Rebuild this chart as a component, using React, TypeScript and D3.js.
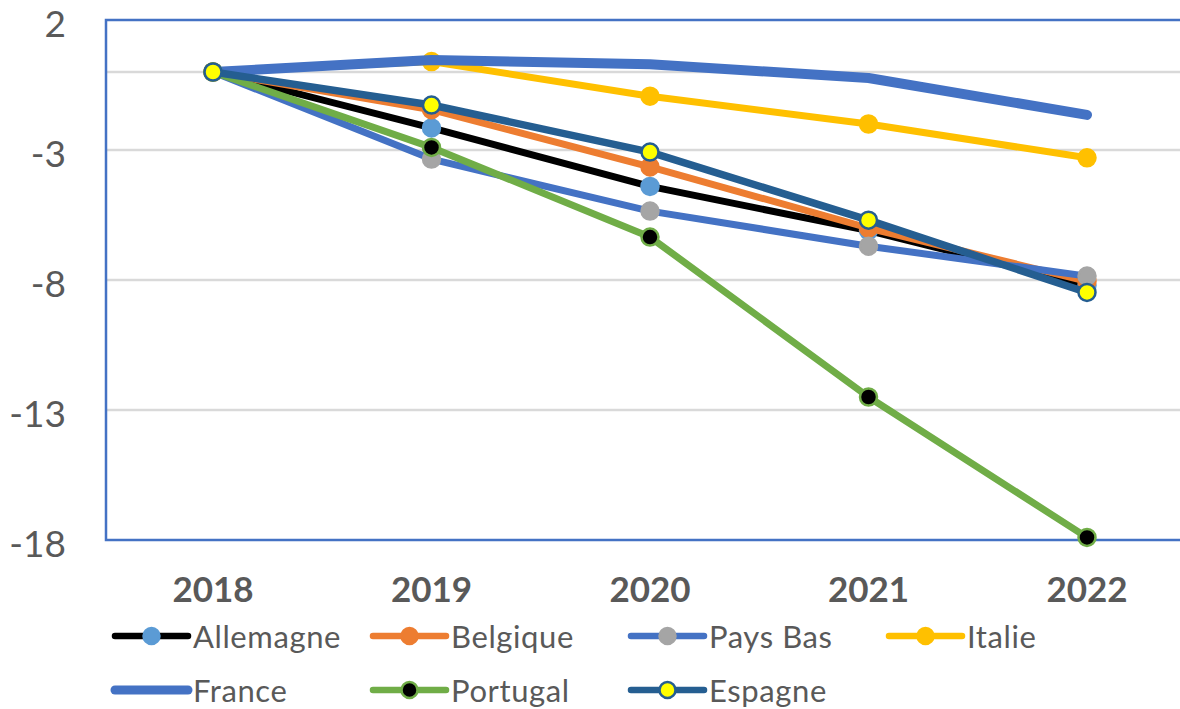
import React, { useEffect, useRef } from "react";
import * as d3 from "d3";

const years = ["2018", "2019", "2020", "2021", "2022"];
const allemagne = [0, -2.15, -4.4, -6.1, -8.2];
const belgique = [0, -1.45, -3.65, -6.0, -8.05];
const paysBas = [0, -3.35, -5.35, -6.7, -7.85];
const italie = [0, 0.4, -0.93, -2.0, -3.3];
const france = [0, 0.46, 0.3, -0.23, -1.65];
const portugal = [0, -2.9, -6.35, -12.5, -17.9];
const espagne = [0, -1.27, -3.08, -5.7, -8.48];
const yTicks = [2, -3, -8, -13, -18];
const gridValues = [0, -3, -8, -13];

const series = [
  { name: "Allemagne", values: allemagne, color: "#000000", width: 7, marker: "#5B9BD5", markerStroke: "#5B9BD5" },
  { name: "Belgique", values: belgique, color: "#ED7D31", width: 7, marker: "#ED7D31", markerStroke: "#ED7D31" },
  { name: "Pays Bas", values: paysBas, color: "#4472C4", width: 7, marker: "#A5A5A5", markerStroke: "#A5A5A5" },
  { name: "Italie", values: italie, color: "#FFC000", width: 7, marker: "#FFC000", markerStroke: "#FFC000" },
  { name: "France", values: france, color: "#4472C4", width: 10, marker: null, markerStroke: null },
  { name: "Portugal", values: portugal, color: "#70AD47", width: 7, marker: "#000000", markerStroke: "#70AD47" },
  { name: "Espagne", values: espagne, color: "#255E91", width: 7.5, marker: "#FFFF00", markerStroke: "#255E91" },
];

const W = 1180;
const H = 709;
const FONT = "Lato, 'Open Sans', sans-serif";
const TEXT = "#595959";

const App = () => {
  const svgRef = useRef(null);

  useEffect(() => {
    const svg = d3.select(svgRef.current);
    svg.selectAll("*").remove();

    const plot = { left: 106, right: 1196, top: 20, bottom: 540 };
    const x = d3.scalePoint().domain(years).range([213, 1087]);
    const y = d3.scaleLinear().domain([-18, 2]).range([plot.bottom, plot.top]);

    // gridlines + zero axis
    svg
      .append("g")
      .selectAll("line")
      .data(gridValues)
      .join("line")
      .attr("x1", plot.left)
      .attr("x2", plot.right)
      .attr("y1", (d) => y(d))
      .attr("y2", (d) => y(d))
      .attr("stroke", "#D9D9D9")
      .attr("stroke-width", 2.5);

    // plot area border
    svg
      .append("rect")
      .attr("x", plot.left)
      .attr("y", plot.top)
      .attr("width", plot.right - plot.left)
      .attr("height", plot.bottom - plot.top)
      .attr("fill", "none")
      .attr("stroke", "#4472C4")
      .attr("stroke-width", 2.5);

    // y labels
    svg
      .append("g")
      .selectAll("text")
      .data(yTicks)
      .join("text")
      .attr("x", 66)
      .attr("y", (d) => y(d) + 2)
      .attr("text-anchor", "end")
      .attr("dominant-baseline", "central")
      .attr("font-family", FONT)
      .attr("font-size", 37)
      .attr("fill", TEXT)
      .text((d) => d);

    // x labels
    svg
      .append("g")
      .selectAll("text")
      .data(years)
      .join("text")
      .attr("x", (d) => x(d))
      .attr("y", 588)
      .attr("text-anchor", "middle")
      .attr("dominant-baseline", "central")
      .attr("font-family", FONT)
      .attr("font-weight", "bold")
      .attr("font-size", 35)
      .attr("fill", TEXT)
      .text((d) => d);

    const line = d3
      .line()
      .x((d, i) => x(years[i]))
      .y((d) => y(d));

    series.forEach((s) => {
      const g = svg.append("g");
      g.append("path")
        .datum(s.values)
        .attr("fill", "none")
        .attr("stroke", s.color)
        .attr("stroke-width", s.width)
        .attr("stroke-linejoin", "round")
        .attr("stroke-linecap", "round")
        .attr("d", line);
      if (s.marker) {
        g.selectAll("circle")
          .data(s.values)
          .join("circle")
          .attr("cx", (d, i) => x(years[i]))
          .attr("cy", (d) => y(d))
          .attr("r", 8.5)
          .attr("fill", s.marker)
          .attr("stroke", s.markerStroke)
          .attr("stroke-width", 2.5);
      }
    });

    // legend
    const legend = svg.append("g");
    series.forEach((s, i) => {
      const col = i % 4;
      const row = Math.floor(i / 4);
      const lx = 115 + col * 258;
      const ly = 636 + row * 54;
      const item = legend.append("g").attr("transform", `translate(${lx}, ${ly})`);
      item
        .append("line")
        .attr("x1", 0)
        .attr("x2", 73)
        .attr("y1", 0)
        .attr("y2", 0)
        .attr("stroke", s.color)
        .attr("stroke-width", s.name === "France" ? 9 : 6.5)
        .attr("stroke-linecap", "round");
      if (s.marker) {
        item
          .append("circle")
          .attr("cx", 36.5)
          .attr("cy", 0)
          .attr("r", 8)
          .attr("fill", s.marker)
          .attr("stroke", s.markerStroke)
          .attr("stroke-width", 2.5);
      }
      item
        .append("text")
        .attr("x", 78)
        .attr("y", 0)
        .attr("dominant-baseline", "central")
        .attr("font-family", FONT)
        .attr("font-size", 31)
        .attr("letter-spacing", 0.6)
        .attr("fill", TEXT)
        .text(s.name);
    });
  }, []);

  return (
    <svg
      ref={svgRef}
      width={W}
      height={H}
      style={{ position: "absolute", left: 0, top: 0, background: "#fff" }}
    ></svg>
  );
};

export default App;
